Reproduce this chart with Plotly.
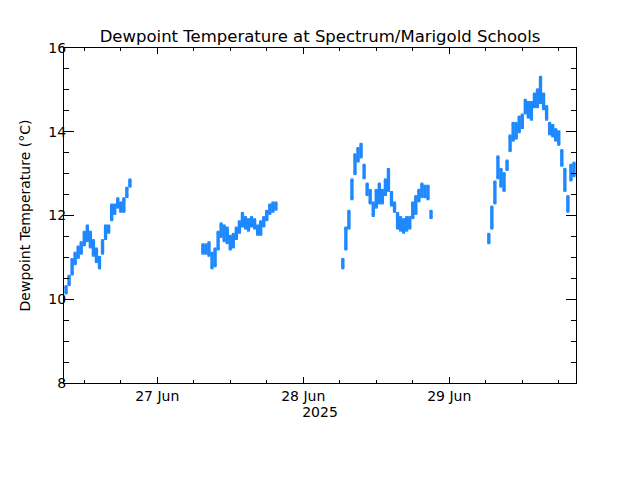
import plotly.graph_objects as go

# Readings (time, lower and upper dewpoint of the scatter band, degC)
t_26 = ["2025-06-26 09:00", "2025-06-26 09:30", "2025-06-26 10:00", "2025-06-26 10:30",
        "2025-06-26 11:00", "2025-06-26 11:30", "2025-06-26 12:00", "2025-06-26 12:30",
        "2025-06-26 13:00", "2025-06-26 13:30", "2025-06-26 14:00", "2025-06-26 14:30",
        "2025-06-26 15:00", "2025-06-26 15:30", "2025-06-26 16:00", "2025-06-26 16:30",
        "2025-06-26 17:00", "2025-06-26 17:30", "2025-06-26 18:00", "2025-06-26 18:30",
        "2025-06-26 19:00", "2025-06-26 19:30"]
lo_26 = [10.15, 10.35, 10.6, 10.85, 11.0, 11.1, 11.3, 11.4, 11.25, 11.05, 10.9, 10.75,
         11.1, 11.45, 11.6, 11.9, 12.05, 12.2, 12.1, 12.1, 12.45, 12.7]
hi_26 = [10.3, 10.55, 10.95, 11.1, 11.25, 11.35, 11.6, 11.75, 11.6, 11.4, 11.2, 11.0,
         11.4, 11.75, 11.75, 12.25, 12.25, 12.4, 12.3, 12.4, 12.65, 12.85]

t_27 = ["2025-06-27 07:30", "2025-06-27 08:00", "2025-06-27 08:30", "2025-06-27 09:00",
        "2025-06-27 09:30", "2025-06-27 10:00", "2025-06-27 10:30", "2025-06-27 11:00",
        "2025-06-27 11:30", "2025-06-27 12:00", "2025-06-27 12:30", "2025-06-27 13:00",
        "2025-06-27 13:30", "2025-06-27 14:00", "2025-06-27 14:30", "2025-06-27 15:00",
        "2025-06-27 15:30", "2025-06-27 16:00", "2025-06-27 16:30", "2025-06-27 17:00",
        "2025-06-27 17:30", "2025-06-27 18:00", "2025-06-27 18:30", "2025-06-27 19:00",
        "2025-06-27 19:30"]
lo_27 = [11.1, 11.1, 11.05, 10.75, 10.8, 11.2, 11.5, 11.4, 11.35, 11.2, 11.25, 11.45,
         11.6, 11.75, 11.7, 11.65, 11.75, 11.7, 11.55, 11.55, 11.75, 11.9, 12.05, 12.1, 12.15]
hi_27 = [11.3, 11.3, 11.35, 11.1, 11.2, 11.6, 11.8, 11.75, 11.7, 11.5, 11.55, 11.7,
         11.85, 12.05, 11.95, 11.9, 11.95, 11.9, 11.75, 11.85, 11.95, 12.1, 12.25, 12.3, 12.3]

t_28 = ["2025-06-28 06:30", "2025-06-28 07:00", "2025-06-28 07:30", "2025-06-28 08:00",
        "2025-06-28 08:30", "2025-06-28 09:00", "2025-06-28 09:30", "2025-06-28 10:00",
        "2025-06-28 10:30", "2025-06-28 11:00", "2025-06-28 11:30", "2025-06-28 12:00",
        "2025-06-28 12:30", "2025-06-28 13:00", "2025-06-28 13:30", "2025-06-28 14:00",
        "2025-06-28 14:30", "2025-06-28 15:00", "2025-06-28 15:30", "2025-06-28 16:00",
        "2025-06-28 16:30", "2025-06-28 17:00", "2025-06-28 17:30", "2025-06-28 18:00",
        "2025-06-28 18:30", "2025-06-28 19:00", "2025-06-28 19:30", "2025-06-28 20:00",
        "2025-06-28 20:30", "2025-06-28 21:00"]
lo_28 = [10.75, 11.2, 11.7, 12.4, 13.0, 13.3, 13.4, 12.9, 12.5, 12.3, 12.0, 12.2,
         12.3, 12.3, 12.5, 12.6, 12.25, 12.1, 11.7, 11.65, 11.6, 11.65, 11.7, 11.95,
         12.05, 12.35, 12.45, 12.45, 12.4, 11.95]
hi_28 = [10.95, 11.7, 12.1, 12.85, 13.45, 13.6, 13.7, 13.2, 12.75, 12.6, 12.3, 12.6,
         12.75, 12.6, 12.85, 13.1, 12.55, 12.3, 12.05, 11.95, 11.9, 11.95, 11.95, 12.3,
         12.45, 12.6, 12.75, 12.7, 12.7, 12.1]

t_29 = ["2025-06-29 06:30", "2025-06-29 07:00", "2025-06-29 07:30", "2025-06-29 08:00",
        "2025-06-29 08:30", "2025-06-29 09:00", "2025-06-29 09:30", "2025-06-29 10:00",
        "2025-06-29 10:30", "2025-06-29 11:00", "2025-06-29 11:30", "2025-06-29 12:00",
        "2025-06-29 12:30", "2025-06-29 13:00", "2025-06-29 13:30", "2025-06-29 14:00",
        "2025-06-29 14:30", "2025-06-29 15:00", "2025-06-29 15:30", "2025-06-29 16:00",
        "2025-06-29 16:30", "2025-06-29 17:00", "2025-06-29 17:30", "2025-06-29 18:00",
        "2025-06-29 18:30", "2025-06-29 19:00", "2025-06-29 19:30", "2025-06-29 20:00",
        "2025-06-29 20:30"]
lo_29 = [11.35, 11.7, 12.3, 12.9, 12.7, 12.6, 13.1, 13.55, 13.8, 13.85, 14.0, 14.1,
         14.45, 14.35, 14.3, 14.6, 14.6, 14.7, 14.55, 14.3, 13.95, 13.9, 13.8, 13.7,
         13.2, 12.6, 12.1, 12.85, 12.95]
hi_29 = [11.55, 12.2, 12.8, 13.4, 13.1, 13.0, 13.3, 13.9, 14.2, 14.2, 14.35, 14.4,
         14.75, 14.7, 14.7, 14.9, 15.0, 15.3, 14.9, 14.6, 14.2, 14.15, 14.05, 14.0,
         13.55, 13.1, 12.45, 13.2, 13.25]

x_range = ["2025-06-26 08:40", "2025-06-29 20:50"]
y_range = [8, 16]

BLUE = "#1e88ff"

fig = go.Figure()
for t, lo, hi in [(t_26, lo_26, hi_26), (t_27, lo_27, hi_27),
                  (t_28, lo_28, hi_28), (t_29, lo_29, hi_29)]:
    span = [h - l for h, l in zip(hi, lo)]
    fig.add_trace(go.Scatter(
        x=t, y=lo, mode="markers",
        marker=dict(symbol="square", size=3, color=BLUE, line=dict(width=0)),
        error_y=dict(type="data", symmetric=False, array=span,
                     arrayminus=[0] * len(span), width=0, thickness=3.4, color=BLUE),
        showlegend=False, hoverinfo="skip"))
    fig.add_trace(go.Scatter(
        x=t, y=hi, mode="markers",
        marker=dict(symbol="square", size=3, color=BLUE, line=dict(width=0)),
        showlegend=False, hoverinfo="skip"))

FONT = "DejaVu Sans"
fig.update_layout(
    width=640, height=480,
    margin=dict(l=56, r=72, t=40, b=105),
    paper_bgcolor="white", plot_bgcolor="white",
    font=dict(family=FONT, color="black", size=14),
    title=dict(text="Dewpoint Temperature at Spectrum/Marigold Schools",
               x=0.5, xanchor="center", xref="paper",
               y=1 - 28 / 480, yref="container", yanchor="middle",
               font=dict(family=FONT, size=16.5, color="black")),
    xaxis=dict(
        type="date", range=x_range,
        tick0="2025-06-27", dtick=86400000, tickformat="%d %b",
        ticks="inside", ticklen=6, tickcolor="black", tickwidth=1,
        showline=True, linecolor="black", linewidth=1, mirror="ticks",
        showgrid=False, zeroline=False,
        minor=dict(dtick=6 * 3600000, tick0="2025-06-27", ticks="inside",
                   ticklen=3, tickcolor="black", tickwidth=1, showgrid=False),
        title=dict(text="2025", standoff=4, font=dict(size=14)),
        tickfont=dict(size=14),
    ),
    yaxis=dict(
        range=y_range, dtick=2, tick0=0,
        ticks="inside", ticklen=10, tickcolor="black", tickwidth=1,
        ticklabelstandoff=-6,
        showline=True, linecolor="black", linewidth=1, mirror="ticks",
        showgrid=False, zeroline=False,
        minor=dict(dtick=0.5, ticks="inside", ticklen=5, tickcolor="black",
                   tickwidth=1, showgrid=False),
        title=dict(text="Dewpoint Temperature (°C)", standoff=14, font=dict(size=14)),
        tickfont=dict(size=14),
    ),
)

fig.write_html("out.html")
